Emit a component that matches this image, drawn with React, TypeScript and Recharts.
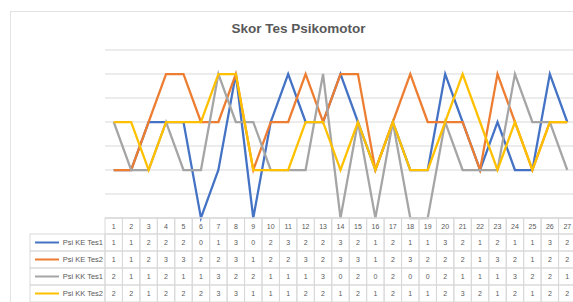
// Skor Tes Psikomotor - line chart with an Excel-style data table under the plot

import React from "react"
import { LineChart, Line, XAxis, YAxis, CartesianGrid } from "recharts"

const categories = [
  "1", "2", "3", "4", "5", "6", "7", "8", "9", "10", "11", "12", "13", "14",
  "15", "16", "17", "18", "19", "20", "21", "22", "23", "24", "25", "26", "27",
]

const psiKETes1 = [1, 1, 2, 2, 2, 0, 1, 3, 0, 2, 3, 2, 2, 3, 2, 1, 2, 1, 1, 3, 2, 1, 2, 1, 1, 3, 2]
const psiKETes2 = [1, 1, 2, 3, 3, 2, 2, 3, 1, 2, 2, 3, 2, 3, 3, 1, 2, 3, 2, 2, 2, 1, 3, 2, 1, 2, 2]
const psiKKTes1 = [2, 1, 1, 2, 1, 1, 3, 2, 2, 1, 1, 1, 3, 0, 2, 0, 2, 0, 0, 2, 1, 1, 1, 3, 2, 2, 1]
const psiKKTes2 = [2, 2, 1, 2, 2, 2, 3, 3, 1, 1, 1, 2, 2, 1, 2, 1, 2, 1, 1, 2, 3, 2, 1, 2, 1, 2, 2]

const yTicks = [0, 0.5, 1, 1.5, 2, 2.5, 3, 3.5]

const series = [
  { key: "ke1", name: "Psi KE Tes1", color: "#4472C4", values: psiKETes1 },
  { key: "ke2", name: "Psi KE Tes2", color: "#ED7D31", values: psiKETes2 },
  { key: "kk1", name: "Psi KK Tes1", color: "#A5A5A5", values: psiKKTes1 },
  { key: "kk2", name: "Psi KK Tes2", color: "#FFC000", values: psiKKTes2 },
]

const data = categories.map((cat, i) => {
  const row: Record<string, number | string> = { cat }
  series.forEach((s) => {
    row[s.key] = s.values[i]
  })
  return row
})

const border = "#d9d9d9"
const textColor = "#595959"
const font = "'Liberation Sans', Arial, sans-serif"
const headH = 16
const rowH = 17
const tableLeft = 30
const plotWidth = 471
const halfBand = plotWidth / categories.length / 2

// each x tick draws its own column of the data table
function TableTick(props: any) {
  const { x, y, payload, index, width, visibleTicksCount } = props
  const bw = width / visibleTicksCount
  const left = x - bw / 2
  return (
    <g>
      <rect x={left} y={y} width={bw} height={headH} fill="none" stroke={border} strokeWidth={1} />
      <text
        x={x}
        y={y + headH / 2}
        textAnchor="middle"
        dominantBaseline="central"
        fontSize={7}
        fontFamily={font}
        fill={textColor}
      >
        {payload.value}
      </text>
      {series.map((s, r) => {
        const top = y + headH + r * rowH
        return (
          <g key={s.key}>
            <rect x={left} y={top} width={bw} height={rowH} fill="none" stroke={border} strokeWidth={1} />
            <text
              x={x}
              y={top + rowH / 2}
              textAnchor="middle"
              dominantBaseline="central"
              fontSize={7}
              fontFamily={font}
              fill={textColor}
            >
              {s.values[index]}
            </text>
          </g>
        )
      })}
      {index === 0 &&
        series.map((s, r) => {
          const top = y + headH + r * rowH
          return (
            <g key={"lg" + s.key}>
              <rect
                x={tableLeft}
                y={top}
                width={left - tableLeft}
                height={rowH}
                fill="none"
                stroke={border}
                strokeWidth={1}
              />
              <line
                x1={tableLeft + 5}
                x2={tableLeft + 29}
                y1={top + rowH / 2}
                y2={top + rowH / 2}
                stroke={s.color}
                strokeWidth={2}
              />
              <text
                x={left - 2}
                y={top + rowH / 2}
                textAnchor="end"
                dominantBaseline="central"
                fontSize={7.5}
                fontFamily={font}
                fill={textColor}
              >
                {s.name}
              </text>
            </g>
          )
        })}
    </g>
  )
}

export default function App() {
  return (
    <div
      style={{
        position: "fixed",
        left: 0,
        top: 0,
        width: 573,
        height: 302,
        overflow: "hidden",
        background: "#fff",
      }}
    >
      <div
        style={{
          position: "absolute",
          left: 10,
          top: 11,
          width: 600,
          height: 320,
          border: "1px solid #e3e3e3",
        }}
      />
      <div
        style={{
          position: "absolute",
          left: 0,
          width: 597,
          top: 21,
          textAlign: "center",
          fontFamily: font,
          fontSize: 13.5,
          fontWeight: "bold",
          color: textColor,
        }}
      >
        Skor Tes Psikomotor
      </div>
      <div style={{ position: "absolute", left: 0, top: 0 }}>
        <LineChart
          width={600}
          height={302}
          data={data}
          margin={{ top: 50, right: 600 - 105 - plotWidth, bottom: 0, left: 105 }}
        >
          <CartesianGrid horizontal vertical={false} stroke={border} />
          <YAxis hide domain={[0, 3.5]} ticks={yTicks} />
          <XAxis
            dataKey="cat"
            interval={0}
            height={84}
            padding={{ left: halfBand, right: halfBand }}
            tickSize={0}
            tickMargin={0}
            tickLine={false}
            axisLine={{ stroke: border }}
            tick={<TableTick />}
          />
          {series.map((s) => (
            <Line
              key={s.key}
              dataKey={s.key}
              name={s.name}
              stroke={s.color}
              strokeWidth={2.25}
              dot={false}
              activeDot={false}
              type="linear"
              isAnimationActive={false}
            />
          ))}
        </LineChart>
      </div>
    </div>
  )
}
